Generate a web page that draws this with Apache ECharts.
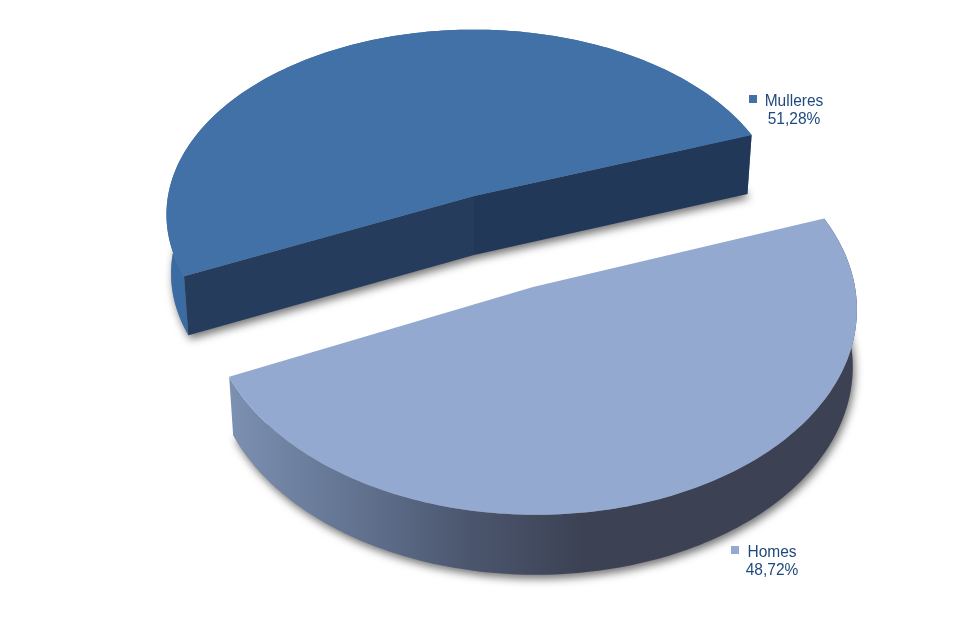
<!DOCTYPE html>
<html>
<head>
<meta charset="utf-8">
<style>html,body{margin:0;padding:0;background:#fff}#c{width:977px;height:638px}</style>
<script src="https://cdn.jsdelivr.net/npm/echarts@6/dist/echarts.min.js"></script>
</head>
<body>
<div id="c"></div>
<script>
var categories = ['Mulleres', 'Homes'];
var values = [51.28, 48.72];

var START_DEG = 20.2, K = -0.1, STEPS = 160;
var layout = [
  { cx: 474, cy: 196, a: 306, b: 183, h: 59, xs: 0.985, ys: 1, skew: 0,
    top: '#4271a7', wall: '#3b6ba3', cutL: '#253c5d', cutR: '#213859',
    swatch: [749, 95], label: [794, 101], textDy: 18 },
  { cx: 533, cy: 287, a: 322, b: 205, h: 57, xs: 0.987, ys: 1.013, skew: 3,
    top: '#93a9cf', wall: { type: 'linear', x: 230, y: 0, x2: 582, y2: 0, global: true,
      colorStops: [{ offset: 0, color: '#7c90b2' }, { offset: 0.4, color: '#5f6f8c' },
                   { offset: 0.68, color: '#4b566e' }, { offset: 1, color: '#3c4254' }] },
    cutL: '#7c90b2', cutR: '#7c90b2',
    swatch: [731, 546], label: [772, 552], textDy: 18 }
];

function project(L, deg, bottom) {
  var t = deg * Math.PI / 180, u = Math.cos(t), v = -Math.sin(t), d = 1 + K * v;
  var xs = bottom ? L.xs : 1, ys = bottom ? L.ys : 1;
  return [L.cx + L.a * xs * u / d + L.skew * v, L.cy + (bottom ? L.h : 0) + L.b * ys * v / d];
}
function arc(L, s, e, bottom) {
  var out = [];
  for (var i = 0; i <= STEPS; i++) out.push(project(L, s + (e - s) * i / STEPS, bottom));
  return out;
}
function centre(L, bottom) {
  return [L.cx, L.cy + (bottom ? L.h : 0)];
}

function renderItem(params, api) {
  var i = params.dataIndex, L = layout[i];
  var total = values.reduce(function (p, c) { return p + c; }, 0), before = 0;
  for (var j = 0; j < i; j++) before += values[j];
  var s = START_DEG + before / total * 360, e = s + api.value(1) / total * 360;

  var topArc = arc(L, s, e, false), botArc = arc(L, s, e, true);
  var cT = centre(L, false), cB = centre(L, true);
  var pS = topArc[0], pE = topArc[STEPS], qS = botArc[0], qE = botArc[STEPS];
  var pct = api.value(1).toFixed(2).replace('.', ',') + '%';
  var font = '16.5px "Liberation Sans", Arial, sans-serif', ink = '#1f497d';

  var kids = [
    { type: 'polygon', shape: { points: botArc.concat([cB]) },
      style: { fill: '#888', shadowBlur: 9, shadowColor: 'rgba(0,0,0,0.55)', shadowOffsetX: 2, shadowOffsetY: 4 } },
    { type: 'polygon', shape: { points: topArc.concat(botArc.slice().reverse()) },
      style: { fill: L.wall } }
  ];
  if (i === 0) {
    kids.push({ type: 'polygon', shape: { points: [cT, pS, qS, cB] }, style: { fill: L.cutR } });
    kids.push({ type: 'polygon', shape: { points: [cT, pE, qE, cB] }, style: { fill: L.cutL } });
  }
  kids.push({ type: 'polygon', shape: { points: topArc.concat([cT]) }, style: { fill: L.top } });
  kids.push({ type: 'rect', shape: { x: L.swatch[0], y: L.swatch[1], width: 8, height: 8 },
    style: { fill: L.top } });
  kids.push({ type: 'text', x: L.label[0], y: L.label[1], scaleX: 0.94, originX: 0, originY: 0,
    style: { text: api.value(0), font: font, fill: ink, align: 'center', verticalAlign: 'middle' } });
  kids.push({ type: 'text', x: L.label[0], y: L.label[1] + L.textDy, scaleX: 0.94, originX: 0, originY: 0,
    style: { text: pct, font: font, fill: ink, align: 'center', verticalAlign: 'middle' } });
  return { type: 'group', children: kids };
}

var chart = echarts.init(document.getElementById('c'), null, { renderer: 'canvas' });
chart.setOption({
  animation: false,
  backgroundColor: '#ffffff',
  series: [{
    type: 'custom',
    coordinateSystem: 'none',
    silent: true,
    renderItem: renderItem,
    data: categories.map(function (c, i) { return [c, values[i]]; }),
    encode: { itemName: 0, value: 1 }
  }]
});
</script>
</body>
</html>
